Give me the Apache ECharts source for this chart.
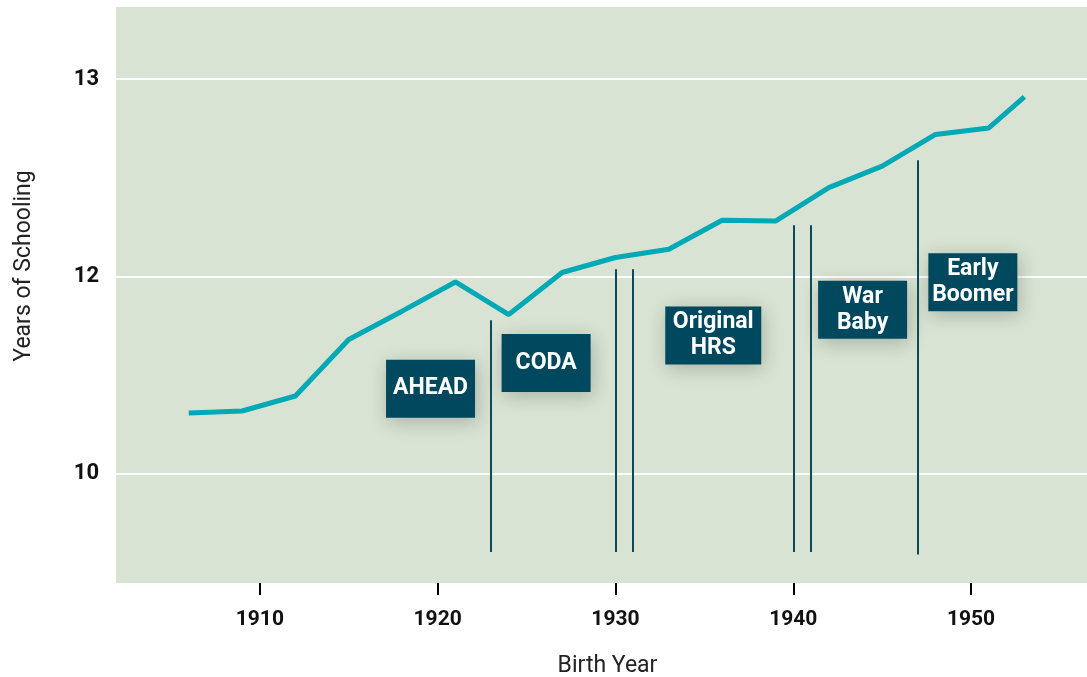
<!DOCTYPE html>
<html>
<head>
<meta charset="utf-8">
<title>Years of Schooling by Birth Year</title>
<script src="https://cdn.jsdelivr.net/npm/echarts@6.0.0/dist/echarts.min.js"></script>
<style>
  html, body { margin: 0; padding: 0; background: #fff; }
  #main { width: 1087px; height: 677px; }
</style>
</head>
<body>
<div id="main"></div>
<script>
// the source axis puts 10, 12 and 13 at equal steps; values are kept in
// that drawn axis unit (label "10" sits at 11)
var birthYears = [1906, 1909, 1912, 1915, 1918, 1921, 1924, 1927, 1930,
                  1933, 1936, 1939, 1942, 1945, 1948, 1951, 1953];
var schooling = [11.307, 11.317, 11.393, 11.679, 11.823, 11.971, 11.806, 12.019, 12.095,
                 12.137, 12.284, 12.280, 12.449, 12.558, 12.719, 12.752, 12.909];

var xTicks = [1910, 1920, 1930, 1940, 1950];
var yTicks = [11, 12, 13];
var yTickLabels = ['10', '12', '13'];

// cohort boundaries
var cohortYears = [1923, 1930, 1931, 1940, 1941, 1947];
var cohortTops = [11.777, 12.035, 12.035, 12.259, 12.259, 12.588];
var cohortBottoms = [10.602, 10.602, 10.602, 10.602, 10.602, 10.59];

// cohort labels
var cohortNames = ['AHEAD', 'CODA', 'Original\nHRS', 'War\nBaby', 'Early\nBoomer'];
var cohortLabelX = [1919.6, 1926.1, 1935.5, 1943.9, 1950.1];
var cohortLabelY = [11.43, 11.56, 11.70, 11.83, 11.97];

var FONT = 'Roboto, "Liberation Sans", sans-serif';

var myChart = echarts.init(document.getElementById('main'));

var boundaryLines = [];
for (var i = 0; i < cohortYears.length; i++) {
    boundaryLines.push([
        { coord: [cohortYears[i], cohortBottoms[i]] },
        { coord: [cohortYears[i], cohortTops[i]] }
    ]);
}

var labelData = [];
for (var j = 0; j < cohortNames.length; j++) {
    labelData.push({ name: cohortNames[j], value: [cohortLabelX[j], cohortLabelY[j]] });
}

var option = {
    animation: false,
    backgroundColor: '#ffffff',
    grid: {
        left: 116,
        right: 0,
        top: 7,
        bottom: 94,
        outerBoundsMode: 'none',
        containLabel: false,
        show: true,
        backgroundColor: '#d8e3d3',
        borderWidth: 0
    },
    xAxis: {
        type: 'value',
        min: 1901.91,
        max: 1956.52,
        name: 'Birth Year',
        nameLocation: 'middle',
        nameGap: 72,
        nameTextStyle: { fontFamily: FONT, fontSize: 23, color: '#222', padding: [0, 0, 0, 12] },
        axisLine: { show: false },
        axisTick: {
            show: true,
            length: 12,
            customValues: xTicks,
            lineStyle: { color: '#000', width: 2 }
        },
        axisLabel: {
            customValues: xTicks,
            margin: 26,
            fontFamily: FONT,
            fontWeight: 'bold',
            fontSize: 21,
            color: '#111',
            formatter: function (v) { return String(v); }
        },
        splitLine: { show: false }
    },
    yAxis: {
        type: 'value',
        min: 10.445,
        max: 13.365,
        name: 'Years of Schooling',
        nameLocation: 'middle',
        nameGap: 80,
        nameTextStyle: { fontFamily: FONT, fontSize: 23, color: '#222', padding: [0, 0, 0, 58] },
        axisLine: { show: false },
        axisTick: { show: false, customValues: yTicks },
        axisLabel: {
            customValues: yTicks,
            margin: 17,
            fontFamily: FONT,
            fontWeight: 'bold',
            fontSize: 22,
            color: '#111',
            formatter: function (v) {
                return yTickLabels[yTicks.indexOf(Math.round(v))];
            }
        },
        splitLine: { show: true, lineStyle: { color: '#ffffff', width: 2 } }
    },
    series: [
        {
            name: 'Years of Schooling',
            type: 'line',
            data: birthYears.map(function (y, k) { return [y, schooling[k]]; }),
            symbol: 'none',
            lineStyle: { color: '#00a9b5', width: 5 },
            z: 3,
            markLine: {
                silent: true,
                symbol: ['none', 'none'],
                label: { show: false },
                lineStyle: { color: '#0b4a5e', width: 2, type: 'solid' },
                data: boundaryLines
            }
        },
        {
            name: 'cohorts',
            type: 'scatter',
            data: labelData,
            symbol: 'rect',
            symbolSize: function (v, p) {
                return [p.name === 'Original\nHRS' ? 96 : 89, 58];
            },
            itemStyle: {
                color: '#00485d',
                opacity: 1,
                shadowBlur: 18,
                shadowColor: 'rgba(0, 0, 0, 0.22)',
                shadowOffsetX: 2,
                shadowOffsetY: 4
            },
            label: {
                show: true,
                position: 'inside',
                formatter: '{b}',
                fontFamily: FONT,
                fontWeight: 'bold',
                fontSize: 23,
                lineHeight: 26,
                color: '#ffffff'
            },
            z: 4
        }
    ]
};

myChart.setOption(option);
</script>
</body>
</html>
